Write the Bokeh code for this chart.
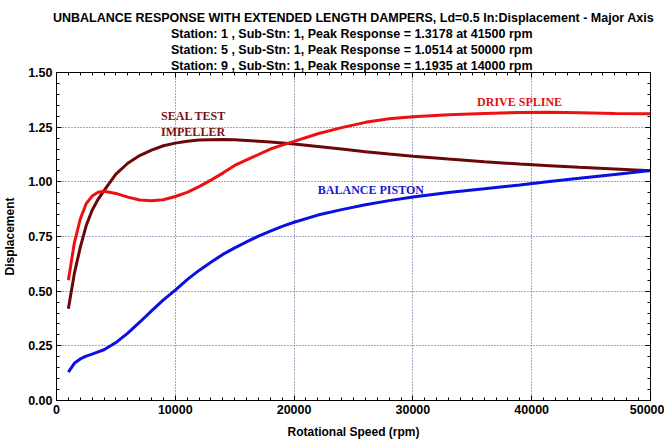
from bokeh.plotting import figure
from bokeh.models import (Range1d, LinearAxis, Title, Label, SingleIntervalTicker,
                          NumeralTickFormatter, CustomJSTickFormatter, ColumnDataSource)
from bokeh.embed import file_html
from bokeh.resources import INLINE

# ---- data ----
rpm = [1000, 1500, 2000, 2500, 3000, 3500, 4000, 5000, 6000, 7000, 8000, 9000,
       10000, 11000, 12000, 13000, 14000, 15000, 16000, 17000, 18000, 19000,
       20000, 22000, 24000, 26000, 28000, 30000, 33000, 36000, 39000, 41500,
       44000, 47000, 50000]
drive_spline = [0.55, 0.72, 0.83, 0.90, 0.935, 0.952, 0.957, 0.947, 0.930, 0.917,
                0.913, 0.918, 0.933, 0.952, 0.978, 1.008, 1.040, 1.075, 1.100,
                1.125, 1.150, 1.168, 1.185, 1.220, 1.248, 1.272, 1.288, 1.298,
                1.307, 1.313, 1.317, 1.3178, 1.316, 1.313, 1.311]
seal_test_impeller = [0.42, 0.58, 0.70, 0.80, 0.87, 0.92, 0.96, 1.035, 1.085, 1.120,
                      1.145, 1.165, 1.177, 1.186, 1.191, 1.193, 1.1935, 1.192, 1.189,
                      1.186, 1.182, 1.178, 1.173, 1.162, 1.150, 1.138, 1.127, 1.117,
                      1.104, 1.092, 1.081, 1.074, 1.067, 1.059, 1.051]
balance_piston = [0.13, 0.17, 0.19, 0.203, 0.212, 0.222, 0.232, 0.265, 0.308, 0.358,
                  0.410, 0.460, 0.505, 0.553, 0.595, 0.632, 0.668, 0.698, 0.725,
                  0.752, 0.775, 0.796, 0.815, 0.848, 0.873, 0.895, 0.914, 0.931,
                  0.951, 0.968, 0.986, 1.002, 1.016, 1.034, 1.0514]

title_lines = [
    "UNBALANCE RESPONSE WITH EXTENDED LENGTH DAMPERS, Ld=0.5 In:Displacement - Major Axis",
    "Station: 1 , Sub-Stn: 1, Peak Response = 1.3178  at 41500 rpm",
    "Station: 5 , Sub-Stn: 1, Peak Response = 1.0514  at 50000 rpm",
    "Station: 9 , Sub-Stn: 1, Peak Response = 1.1935  at 14000 rpm",
]
curve_labels = [("DRIVE SPLINE", 35400, 1.395, "#e01010"),
                ("SEAL TEST", 8800, 1.335, "#7a1212"),
                ("IMPELLER", 8800, 1.262, "#7a1212"),
                ("BALANCE PISTON", 22000, 0.995, "#1818d0")]

SANS = "Liberation Sans"
SERIF = "Liberation Serif"

src = ColumnDataSource(dict(x=rpm, a=drive_spline, b=seal_test_impeller, c=balance_piston))

p = figure(width=664, height=442, output_backend="svg", toolbar_location=None,
           x_range=Range1d(0, 50000), y_range=Range1d(0, 1.5),
           min_border_left=55, min_border_right=14, min_border_top=72,
           min_border_bottom=42, background_fill_color="white",
           border_fill_color="white")
p.outline_line_color = "black"
p.outline_line_width = 1

xt = SingleIntervalTicker(interval=10000, num_minor_ticks=10)
yt = SingleIntervalTicker(interval=0.25, num_minor_ticks=5)

for ax in [p.xaxis[0], p.yaxis[0]]:
    ax.major_tick_in = 5
    ax.major_tick_out = 0
    ax.minor_tick_in = 3
    ax.minor_tick_out = 0
    ax.axis_line_color = "black"
    ax.major_tick_line_color = "black"
    ax.minor_tick_line_color = "black"
    ax.major_label_text_font = SANS
    ax.major_label_text_font_style = "bold"
    ax.major_label_text_font_size = "12.5px"
    ax.major_label_text_color = "black"
    ax.axis_label_text_font = SANS
    ax.axis_label_text_font_style = "bold"
    ax.axis_label_text_font_size = "12px"
    ax.axis_label_text_color = "black"
    ax.major_label_standoff = 4
    ax.axis_label_standoff = 8

p.xaxis[0].ticker = xt
p.yaxis[0].ticker = yt
p.xaxis[0].formatter = NumeralTickFormatter(format="0")
p.yaxis[0].formatter = NumeralTickFormatter(format="0.00")
p.xaxis[0].axis_label = "Rotational Speed (rpm)"
p.yaxis[0].axis_label = "Displacement"

blank = CustomJSTickFormatter(code="return ''")
for loc, tk in [("above", xt), ("right", yt)]:
    ax = LinearAxis(ticker=tk, formatter=blank, major_label_text_font_size="1px",
                    major_tick_in=5, major_tick_out=0, minor_tick_in=3,
                    minor_tick_out=0, major_label_standoff=0)
    p.add_layout(ax, loc)

p.xgrid.ticker = xt
p.ygrid.ticker = yt
for g in [p.xgrid[0], p.ygrid[0]]:
    g.grid_line_color = "#4a4a80"
    g.grid_line_dash = "1 2"
    g.grid_line_width = 1

p.line("x", "b", source=src, line_color="#6a0808", line_width=3)
p.line("x", "c", source=src, line_color="#0a10e0", line_width=3)
p.line("x", "a", source=src, line_color="#ee1010", line_width=3)

for txt, x, y, col in curve_labels:
    p.add_layout(Label(x=x, y=y, text=txt, text_font=SERIF, text_font_style="bold",
                       text_font_size="12px", text_color=col, text_baseline="top"))

for line in reversed(title_lines):
    p.add_layout(Title(text=line, align="center", text_font=SANS, text_font_style="bold",
                       text_font_size="12.5px", standoff=0, text_color="black",
                       text_line_height=1.1), "above")

open("out.html", "w").write(file_html(p, INLINE))
